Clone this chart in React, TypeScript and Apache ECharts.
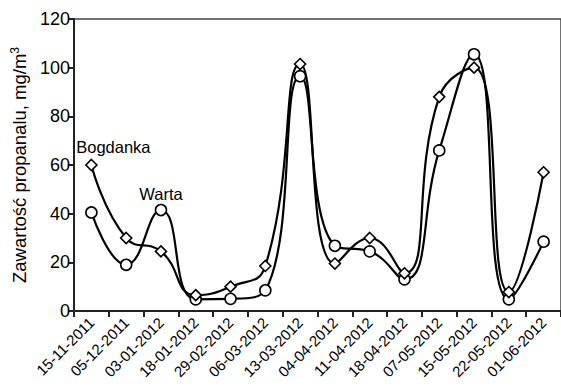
import React, { useEffect, useRef } from "react";
import * as echarts from "echarts";

const categories = [
  "15-11-2011", "05-12-2011", "03-01-2012", "18-01-2012", "29-02-2012", "06-03-2012", "13-03-2012",
  "04-04-2012", "11-04-2012", "18-04-2012", "07-05-2012", "15-05-2012", "22-05-2012", "01-06-2012",
];
const bogdanka = [60, 30, 24.5, 6.5, 10, 18.5, 101.5, 19.5, 30, 15.5, 88, 100, 7.8, 57];
const warta = [40.5, 19, 41.5, 4.8, 5, 8.5, 96.5, 26.8, 24.5, 13, 66, 105.5, 4.8, 28.5];
const yTicks = { min: 0, max: 120, interval: 20 };

const FONT = "Arial, 'Liberation Sans', sans-serif";

export default function App() {
  const ref = useRef<HTMLDivElement>(null);
  useEffect(() => {
    const chart = echarts.init(ref.current!, undefined, { renderer: "svg" });
    const lineStyle = { color: "#000", width: 2.2 };
    const itemStyle = { color: "#fff", borderColor: "#000", borderWidth: 1.6 };
    chart.setOption({
      animation: false,
      textStyle: { fontFamily: FONT },
      grid: {
        left: 74, top: 19, bottom: 76, width: 490,
        show: true, borderColor: "#444", borderWidth: 1.5, backgroundColor: "transparent",
      },
      xAxis: {
        type: "category",
        data: categories,
        boundaryGap: true,
        axisLine: { lineStyle: { color: "#222", width: 2 } },
        axisTick: { show: true, length: 6, inside: false, lineStyle: { color: "#222", width: 2 } },
        axisLabel: { rotate: 45, fontSize: 15, color: "#000", margin: 9, fontFamily: FONT, interval: 0 },
      },
      yAxis: {
        type: "value",
        min: yTicks.min, max: yTicks.max, interval: yTicks.interval,
        splitLine: { show: false },
        axisLine: { show: true, lineStyle: { color: "#222", width: 2 } },
        axisTick: { show: true, length: 6, lineStyle: { color: "#222", width: 2 } },
        axisLabel: { fontSize: 18, color: "#000", margin: 4, fontFamily: FONT },
        name: "{a|Zawartość propanalu, mg/m}{s|3}",
        nameLocation: "middle",
        nameGap: 42,
        nameTextStyle: {
          rich: {
            a: { fontSize: 18.5, color: "#000", fontFamily: FONT },
            s: { fontSize: 12, color: "#000", fontFamily: FONT, padding: [0, 0, 10, 0] },
          },
        },
      },
      series: [
        {
          name: "Bogdanka",
          type: "line",
          smooth: 0.5,
          symbol: "diamond",
          symbolSize: 11,
          showAllSymbol: true,
          lineStyle,
          itemStyle,
          z: 3,
          data: bogdanka.map((v, i) =>
            i === 0
              ? { value: v, label: { show: true, formatter: "Bogdanka", position: "top", offset: [22, 2], fontSize: 16.5, color: "#000", fontFamily: FONT } }
              : v
          ),
        },
        {
          name: "Warta",
          type: "line",
          smooth: 0.5,
          symbol: "circle",
          symbolSize: 11,
          showAllSymbol: true,
          lineStyle,
          itemStyle,
          z: 2,
          data: warta.map((v, i) =>
            i === 2
              ? { value: v, label: { show: true, formatter: "Warta", position: "top", offset: [0, 4], fontSize: 16.5, color: "#000", fontFamily: FONT } }
              : v
          ),
        },
      ],
    });
    return () => chart.dispose();
  }, []);
  return <div ref={ref} style={{ width: 561, height: 387, position: "absolute", left: 0, top: 0 }} />;
}
